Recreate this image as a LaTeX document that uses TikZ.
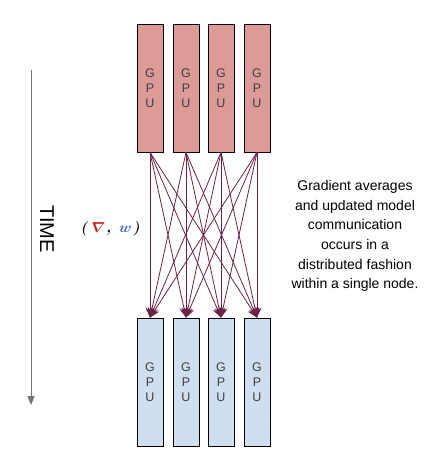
\documentclass[tikz,border=0pt]{standalone}
\usepackage{fontspec}
\setmainfont{Liberation Sans}
\usepackage{bm}
\usetikzlibrary{arrows.meta}
\definecolor{gpured}{HTML}{DD9B98}
\definecolor{gpublue}{HTML}{CFDFF0}
\definecolor{flowcol}{HTML}{6A2346}
\definecolor{gradred}{HTML}{C8281E}
\definecolor{wblue}{HTML}{3A5FD0}
\tikzset{
    gpu/.style={draw, line width=0.8pt, minimum width=26pt, minimum height=128pt,
        inner sep=0pt, align=center, font=\fontsize{12.5}{15}\selectfont, text=black!75},
    flow/.style={flowcol, line width=0.8pt, -{Stealth[length=10pt, width=9pt]}}
}
\begin{document}
\begin{tikzpicture}[x=1pt, y=-1pt]
    \useasboundingbox (0,0) rectangle (447,473);
    \foreach \i/\x in {1/150,2/186,3/221,4/257}
    {
        \node[gpu, fill=gpured]  (top\i) at (\x,88)  {G\\P\\U};
        \node[gpu, fill=gpublue] (bot\i) at (\x,382) {G\\P\\U};
    }
    \foreach \i in {1,...,4}
        \foreach \j in {1,...,4}
            \draw[flow] (top\i.south) -- (bot\j.north);

    \coordinate (timestart) at (31,70);
    \coordinate (timeend) at (31,405);
    \draw[black!55, line width=1pt, -{Triangle[length=9pt, width=7pt]}] (timestart) -- (timeend);
    \node[rotate=-90, font=\fontsize{20}{24}\selectfont] (time) at (47,229) {TIME};

    \node[xslant=0.2, transform shape, font=\fontsize{15}{18}\selectfont\boldmath] (grad) at (111,229)
        {$(\,\textcolor{gradred}{\bm{\nabla}}\,,\;\textcolor{wblue}{\bm{w}}\,)$};

    \node[align=center, font=\fontsize{14}{19.6}\selectfont] (note) at (355,236)
        {Gradient averages\\and updated model\\communication\\occurs in a\\distributed fashion\\within a single node.};
\end{tikzpicture}
\end{document}
